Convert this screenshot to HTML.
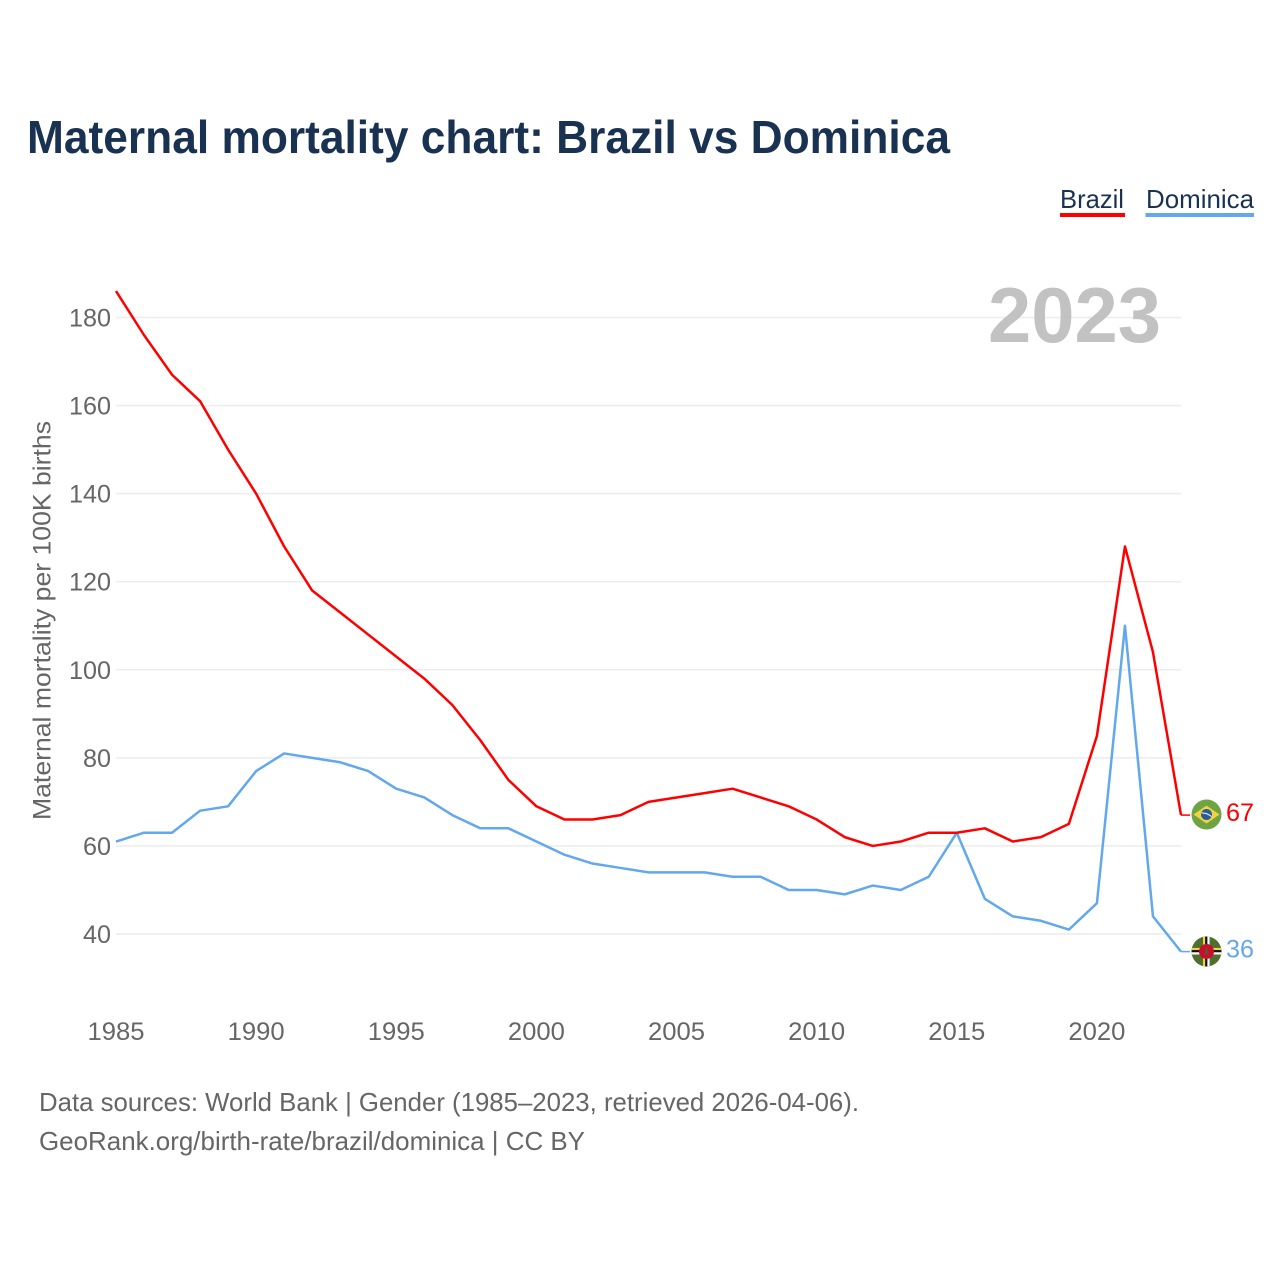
<!DOCTYPE html>
<html lang="en">
<head>
<meta charset="utf-8">
<title>Maternal mortality chart: Brazil vs Dominica</title>
<style>
html,body{margin:0;padding:0;background:#fff;width:1280px;height:1280px;overflow:hidden}
svg{display:block;font-family:"Liberation Sans",sans-serif}
</style>
</head>
<body>
<svg id="chart" width="1280" height="1280" viewBox="0 0 1280 1280" xmlns="http://www.w3.org/2000/svg">
  <defs>
    <clipPath id="flag-clip-br"><circle cx="1206.5" cy="814.5" r="15"></circle></clipPath>
    <clipPath id="flag-clip-dm"><circle cx="1206.5" cy="951.5" r="15"></circle></clipPath>
  </defs>
  <rect width="1280" height="1280" fill="#fff"></rect>
  <text x="27" y="153" font-size="46" font-weight="700" fill="#1a3251" textLength="923" lengthAdjust="spacingAndGlyphs">Maternal mortality chart: Brazil vs Dominica</text>

  <g>
    <g>
      <text x="1060" y="208" font-size="26" fill="#1a3251" textLength="64" lengthAdjust="spacingAndGlyphs">Brazil</text>
      <rect x="1060" y="213" width="65" height="4" fill="#ff0000"></rect>
    </g>
    <g>
      <text x="1146" y="208" font-size="26" fill="#1a3251" textLength="108" lengthAdjust="spacingAndGlyphs">Dominica</text>
      <rect x="1145.500" y="213" width="108.500" height="4" fill="#62a8ec"></rect>
    </g>
  </g>

  <g id="grid"></g>
  <g id="y-axis"></g>
  <g id="x-axis"></g>

  <text transform="translate(50.500,820) rotate(-90)" font-size="25" fill="#666" textLength="399" lengthAdjust="spacingAndGlyphs">Maternal mortality per 100K births</text>

  <text x="988" y="342" font-size="78" font-weight="700" fill="#c2c2c2" textLength="173" lengthAdjust="spacingAndGlyphs">2023</text>

  <g id="series"></g>

  <g clip-path="url(#flag-clip-br)">
    <rect x="1191" y="799" width="31" height="31" fill="#6fa344"></rect>
    <polygon points="1193.500,814.500 1206.500,805.500 1219.500,814.500 1206.500,823.500" fill="#f0d33f"></polygon>
    <circle cx="1206.500" cy="814.500" r="5.500" fill="#2a5b9c"></circle>
    <path d="M1201.500 813 Q1206.500 812.500 1211.500 816.500" stroke="#fff" stroke-width="1" fill="none"></path>
  </g>
  <g clip-path="url(#flag-clip-dm)">
    <rect x="1191" y="936" width="31" height="31" fill="#4f6f2e"></rect>
    <rect x="1203" y="936" width="2.200" height="31" fill="#f0d33f"></rect>
    <rect x="1205.200" y="936" width="2.200" height="31" fill="#111"></rect>
    <rect x="1207.400" y="936" width="2.200" height="31" fill="#fff"></rect>
    <rect x="1191" y="947.900" width="31" height="2.200" fill="#f0d33f"></rect>
    <rect x="1191" y="950.100" width="31" height="2.200" fill="#111"></rect>
    <rect x="1191" y="952.300" width="31" height="2.200" fill="#fff"></rect>
    <circle cx="1206.500" cy="951.500" r="7.500" fill="#c8102e"></circle>
    <rect x="1205.500" y="948" width="2" height="7" fill="#3f6a2a"></rect>
  </g>

  <g id="end-labels"></g>

  <text x="39" y="1111" font-size="26" fill="#666" textLength="820" lengthAdjust="spacingAndGlyphs">Data sources: World Bank | Gender (1985–2023, retrieved 2026-04-06).</text>
  <text x="39" y="1150" font-size="26" fill="#666" textLength="546" lengthAdjust="spacingAndGlyphs">GeoRank.org/birth-rate/brazil/dominica | CC BY</text>
</svg>
<script>
var years = [1985,1986,1987,1988,1989,1990,1991,1992,1993,1994,1995,1996,1997,1998,1999,2000,2001,2002,2003,2004,2005,2006,2007,2008,2009,2010,2011,2012,2013,2014,2015,2016,2017,2018,2019,2020,2021,2022,2023];
var brazilValues = [186,176,167,161,150,140,128,118,113,108,103,98,92,84,75,69,66,66,67,70,71,72,73,71,69,66,62,60,61,63,63,64,61,62,65,85,128,104,67];
var dominicaValues = [61,63,63,68,69,77,81,80,79,77,73,71,67,64,64,61,58,56,55,54,54,54,53,53,50,50,49,51,50,53,63,48,44,43,41,47,110,44,36];
var yTicks = [40,60,80,100,120,140,160,180];
var xTicks = [1985,1990,1995,2000,2005,2010,2015,2020];

var NS = 'http://www.w3.org/2000/svg';
function xScale(year){ return 116 + (year - 1985) * (1181 - 116) / 38; }
function yScale(value){ return 934 - (value - 40) * (934 - 317.5) / 140; }
function make(tag, parent, attrs, text){
  var el = document.createElementNS(NS, tag);
  for (var k in attrs) { el.setAttribute(k, attrs[k]); }
  if (text !== undefined) { el.textContent = text; }
  parent.appendChild(el);
  return el;
}

var grid = document.getElementById('grid');
var yAxis = document.getElementById('y-axis');
var xAxis = document.getElementById('x-axis');
var seriesGroup = document.getElementById('series');
var endLabels = document.getElementById('end-labels');

yTicks.forEach(function(t){
  var line = make('line', grid, {x1:116, x2:1181, y1:yScale(t), y2:yScale(t), stroke:'#ececec', 'stroke-width':1.5});
  
  
  var label = make('text', yAxis, {x:69, y:yScale(t)+9, 'font-size':25, fill:'#666', textLength:String(t).length === 3 ? 42 : 28, lengthAdjust:'spacingAndGlyphs'}, String(t));
  if (String(t).length < 3) { label.setAttribute('x', 83); }
  
  
});

xTicks.forEach(function(t){
  var label = make('text', xAxis, {x:xScale(t)-28.5, y:1040, 'font-size':25, fill:'#666', textLength:57, lengthAdjust:'spacingAndGlyphs'}, String(t));
  
  
});

function drawSeries(values, color, labelY){
  var pts = values.map(function(v, i){ return xScale(years[i]).toFixed(2) + ',' + yScale(v).toFixed(2); }).join(' ');
  var poly = make('polyline', seriesGroup, {points:pts, fill:'none', stroke:color, 'stroke-width':2.5, 'stroke-linejoin':'round'});
  
  
  var last = values[values.length - 1];
  var lastX = xScale(years[years.length - 1]);
  var leader = make('line', seriesGroup, {x1:lastX, x2:lastX + 9, y1:yScale(last), y2:yScale(last), stroke:color, 'stroke-width':1.5});
  
  
  var label = make('text', endLabels, {x:1226, y:yScale(last) + 6 + labelY, 'font-size':25, fill:color, textLength:28, lengthAdjust:'spacingAndGlyphs'}, String(last));
  
  
}
drawSeries(dominicaValues, '#62a8ec', 0);
drawSeries(brazilValues, '#ff0000', 0);
</script>
</body>
</html>
